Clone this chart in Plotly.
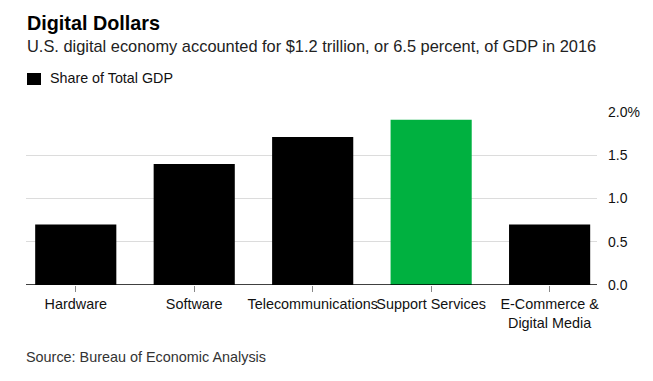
import plotly.graph_objects as go

categories = ["Hardware", "Software", "Telecommunications", "Support Services", "E-Commerce &<br>Digital Media"]
share_of_gdp = [0.70, 1.40, 1.71, 1.91, 0.70]
bar_colors = ["#000000", "#000000", "#000000", "#00b140", "#000000"]
y_tickvals = [0.0, 0.5, 1.0, 1.5, 2.0]
y_ticktext = ["0.0", "0.5", "1.0", "1.5", "2.0%"]

FONT = "Liberation Sans, Arial, sans-serif"

# page body has an 8px margin, so the figure is drawn at (8, 8)
W, H = 645, 373
ML, MR, MT, MB = 18, 56, 104, 96
plot_w = W - ML - MR
plot_h = H - MT - MB

def px_x(x):
    return (x - ML) / plot_w

def px_y(y):
    return (H - MB - y) / plot_h

fig = go.Figure()
fig.add_trace(go.Bar(
    x=categories, y=share_of_gdp, name="Share of Total GDP",
    marker=dict(color=bar_colors, line=dict(width=0)),
    width=0.685, showlegend=False,
))

fig.update_layout(
    width=W, height=H,
    margin=dict(l=ML, r=MR, t=MT, b=MB),
    paper_bgcolor="white", plot_bgcolor="white",
    font=dict(family=FONT, color="#000000", size=14),
    xaxis=dict(
        range=[-0.42, 4.4], showgrid=False, showline=False,
        ticks="outside", ticklen=6, tickcolor="#888888", tickwidth=1,
        tickangle=0, automargin=False,
        tickfont=dict(size=14.4, color="#111111"), zeroline=False,
    ),
    yaxis=dict(
        side="right", range=[0, 2.0], tickvals=y_tickvals, ticktext=y_ticktext,
        showgrid=True, gridcolor="#dcdcdc", gridwidth=1, automargin=False,
        zeroline=False, showline=False, ticks="", ticklabelstandoff=10,
        tickfont=dict(size=14, color="#111111"),
    ),
)

# baseline
fig.add_shape(type="line", xref="paper", yref="y", x0=0, x1=1, y0=0, y1=0,
              line=dict(color="#000000", width=1.5))

# legend key
fig.add_shape(type="rect", xref="paper", yref="paper",
              x0=px_x(19), x1=px_x(33), y0=px_y(77), y1=px_y(65),
              fillcolor="#000000", line=dict(width=0))
fig.add_annotation(text="Share of Total GDP", xref="paper", yref="paper",
                   x=px_x(40), y=px_y(70), xanchor="left", yanchor="middle",
                   showarrow=False, font=dict(size=14.3, color="#111111"))

fig.add_annotation(text="<b>Digital Dollars</b>", xref="paper", yref="paper",
                   x=px_x(17), y=px_y(15), xanchor="left", yanchor="middle",
                   showarrow=False, font=dict(size=19.8, color="#000000"))
fig.add_annotation(text="U.S. digital economy accounted for $1.2 trillion, or 6.5 percent, of GDP in 2016",
                   xref="paper", yref="paper", x=px_x(17), y=px_y(38),
                   xanchor="left", yanchor="middle",
                   showarrow=False, font=dict(size=16.4, color="#222222"))
fig.add_annotation(text="Source: Bureau of Economic Analysis", xref="paper", yref="paper",
                   x=px_x(16), y=px_y(349), xanchor="left", yanchor="middle",
                   showarrow=False, font=dict(size=14.4, color="#333333"))

fig.write_html("out.html")
